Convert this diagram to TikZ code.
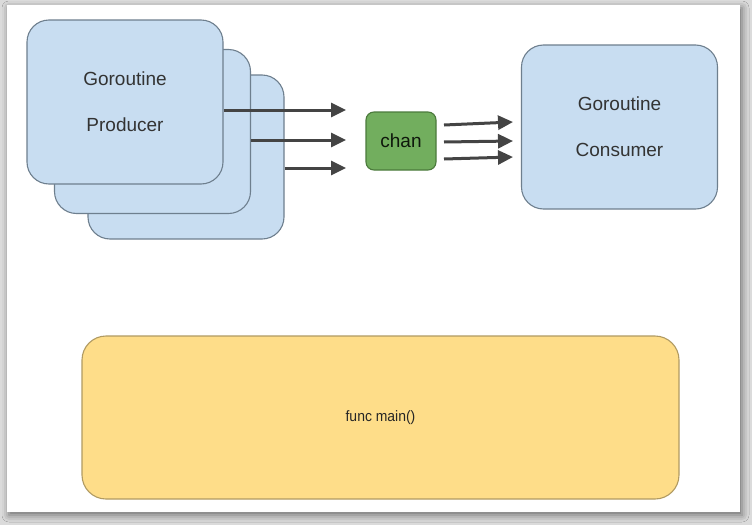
\documentclass[tikz,border=0pt]{standalone}
\usepackage{fontspec}
\setmainfont{Liberation Sans}
\usetikzlibrary{arrows.meta}
\usetikzlibrary{positioning}
\usetikzlibrary{shadows.blur}

\definecolor{routinefill}{HTML}{C8DDF1}
\definecolor{routineline}{HTML}{6E7F8E}
\definecolor{chanfill}{HTML}{72AE5E}
\definecolor{chanline}{HTML}{4B7A3C}
\definecolor{mainfill}{HTML}{FEDD89}
\definecolor{mainline}{HTML}{B09A62}
\definecolor{arrowgrey}{HTML}{444444}
\definecolor{textgrey}{HTML}{333333}

\tikzset{
  routine/.style={draw=routineline, fill=routinefill, line width=1.1pt,
    rounded corners=22pt, minimum width=196pt, minimum height=164pt,
    text=textgrey, align=center, font=\fontsize{19}{46}\selectfont},
  chanbox/.style={draw=chanline, fill=chanfill, line width=1.1pt,
    rounded corners=8pt, minimum width=70pt, minimum height=58pt,
    text=black!80!chanline, font=\fontsize{19}{23}\selectfont},
  mainbox/.style={draw=mainline, fill=mainfill, line width=1.1pt,
    rounded corners=24pt, minimum width=597pt, minimum height=163pt,
    text=black!85, font=\fontsize{15}{18}\selectfont},
  flow/.style={draw=arrowgrey, line width=3pt,
    -{Triangle[length=15pt, width=14pt]}},
}

\begin{document}
\begin{tikzpicture}[x=1pt, y=-1pt]
  % background and slide
  \fill[black!14] (0,0) rectangle (752,525);
  \fill[white, blur shadow={shadow xshift=2pt, shadow yshift=-3pt,
    shadow blur radius=7pt, shadow opacity=50}] (7,5) rectangle (740,512);
  \useasboundingbox (0,0) rectangle (752,525);

  % producers, back to front
  \node[routine] (prodC) at (186,157) {};
  \node[routine] (prodB) at (152.5,131.5) {};
  \node[routine] (prodA) at (125,102) {Goroutine\\Producer};

  \node[chanbox] (chan) at (401,141) {chan};

  \node[routine] (cons) at (619.5,127) {Goroutine\\Consumer};

  \node[mainbox] (main) at (380.5,417.5) {\scalebox{0.93}[1]{func main()}};

  % producer arrows
  \coordinate (inA) at (346,110);
  \coordinate (inB) at (346,140);
  \coordinate (inC) at (346,168);
  \draw[flow] (prodA.east |- inA) -- (inA);
  \draw[flow] (prodB.east |- inB) -- (inB);
  \draw[flow] (prodC.east |- inC) -- (inC);

  % consumer arrows
  \coordinate (outA) at (444,125);
  \coordinate (outB) at (444,142);
  \coordinate (outC) at (444,159);
  \coordinate (recA) at (513,122);
  \coordinate (recB) at (513,141);
  \coordinate (recC) at (513,157);
  \draw[flow] (outA) -- (recA);
  \draw[flow] (outB) -- (recB);
  \draw[flow] (outC) -- (recC);
\end{tikzpicture}
\end{document}
